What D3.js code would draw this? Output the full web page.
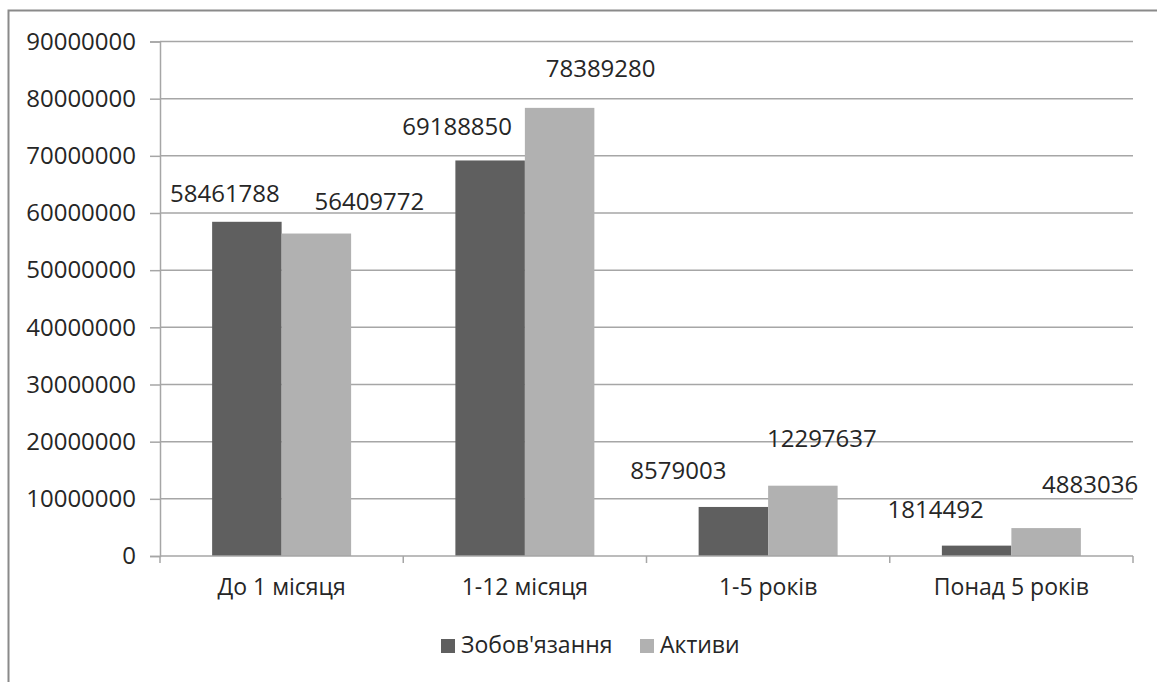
<!DOCTYPE html>
<html>
<head>
<meta charset="utf-8">
<script src="https://cdn.jsdelivr.net/npm/d3@7"></script>
<style>
  html, body { margin: 0; padding: 0; background: #fff; }
  svg { display: block; }
  text { font-family: "Open Sans", "DejaVu Sans", sans-serif; fill: #262626; }
</style>
</head>
<body>
<svg id="chart" width="1157" height="682"></svg>
<script>
// Maturity buckets and the two series (UAH)
const categories = ["До 1 місяця", "1-12 місяця", "1-5 років", "Понад 5 років"];
const seriesNames = ["Зобов'язання", "Активи"];
const liabilities = [58461788, 69188850, 8579003, 1814492];
const assets = [56409772, 78389280, 12297637, 4883036];
const yTicks = [0, 10000000, 20000000, 30000000, 40000000, 50000000, 60000000, 70000000, 80000000, 90000000];

const colors = ["#5f5f5f", "#b1b1b1"];
// hand-placed label offsets (dx, dy from bar top centre), per series then category
const labelNudge = [
  [[-22, -20], [-33, -25], [-55, -28], [-41, -28]],
  [[53, -24], [41, -31], [19, -39], [44, -35]]
];

const svg = d3.select("#chart");
const plot = { left: 160, right: 1133, top: 41.5, bottom: 556 };

// outer frame
svg.append("rect")
  .attr("x", 8.5).attr("y", 10.5)
  .attr("width", 1160).attr("height", 700)
  .attr("fill", "none").attr("stroke", "#8a8a8a").attr("stroke-width", 2);

const y = d3.scaleLinear().domain([0, 90000000]).range([plot.bottom, plot.top]);
const x0 = d3.scaleBand().domain(categories).range([plot.left, plot.right])
  .paddingInner(0.4286).paddingOuter(0.2143);
const x1 = d3.scaleBand().domain(seriesNames).range([0, x0.bandwidth()]);

// gridlines
svg.append("g")
  .selectAll("line").data(yTicks.filter(d => d > 0)).join("line")
  .attr("x1", plot.left).attr("x2", plot.right)
  .attr("y1", d => y(d)).attr("y2", d => y(d))
  .attr("stroke", "#a6a6a6").attr("stroke-width", 1.5);

// y axis
const yAxis = d3.axisLeft(y).tickValues(yTicks).tickSize(10).tickPadding(14)
  .tickFormat(d => String(d));
const gy = svg.append("g").attr("transform", `translate(${plot.left},0)`).call(yAxis);
gy.select(".domain").attr("stroke", "#a6a6a6").attr("stroke-width", 1.5);
gy.selectAll(".tick line").attr("stroke", "#a6a6a6").attr("stroke-width", 1.5);
gy.selectAll(".tick text").attr("font-size", 24).attr("fill", "#262626")
  .style("font-family", "'Open Sans', sans-serif");

// bars
const data = [liabilities, assets];
const groups = svg.append("g").selectAll("g").data(seriesNames).join("g")
  .attr("fill", (d, i) => colors[i]);
groups.each(function (name, si) {
  d3.select(this).selectAll("rect").data(categories).join("rect")
    .attr("x", c => x0(c) + x1(name))
    .attr("y", (c, ci) => y(data[si][ci]))
    .attr("width", x1.bandwidth())
    .attr("height", (c, ci) => y(0) - y(data[si][ci]));
});

// x axis (ticks at category boundaries)
const gx = svg.append("g");
gx.append("line")
  .attr("x1", plot.left).attr("x2", plot.right)
  .attr("y1", y(0)).attr("y2", y(0))
  .attr("stroke", "#a6a6a6").attr("stroke-width", 1.5);
const bounds = d3.range(categories.length + 1).map(i => plot.left + i * x0.step());
gx.selectAll("line.tk").data(bounds).join("line").attr("class", "tk")
  .attr("x1", d => d).attr("x2", d => d)
  .attr("y1", y(0)).attr("y2", y(0) + 7)
  .attr("stroke", "#a6a6a6").attr("stroke-width", 1.5);
gx.selectAll("text").data(categories).join("text")
  .attr("x", c => x0(c) + x0.bandwidth() / 2)
  .attr("y", 595)
  .attr("text-anchor", "middle")
  .attr("font-size", 23)
  .text(c => c);

// value labels
seriesNames.forEach((name, si) => {
  svg.append("g").selectAll("text").data(categories).join("text")
    .attr("x", (c, ci) => x0(c) + x1(name) + x1.bandwidth() / 2 + labelNudge[si][ci][0])
    .attr("y", (c, ci) => y(data[si][ci]) + labelNudge[si][ci][1])
    .attr("text-anchor", "middle")
    .attr("font-size", 24)
    .text((c, ci) => String(data[si][ci]));
});

// legend
const legend = svg.append("g").attr("transform", "translate(441,639)");
const legendItems = [{ name: seriesNames[0], x: 0 }, { name: seriesNames[1], x: 199 }];
legendItems.forEach((it, i) => {
  legend.append("rect").attr("x", it.x).attr("y", 0).attr("width", 14).attr("height", 14)
    .attr("fill", colors[i]);
  legend.append("text").attr("x", it.x + 20).attr("y", 14)
    .attr("font-size", 23).text(it.name);
});
</script>
</body>
</html>
